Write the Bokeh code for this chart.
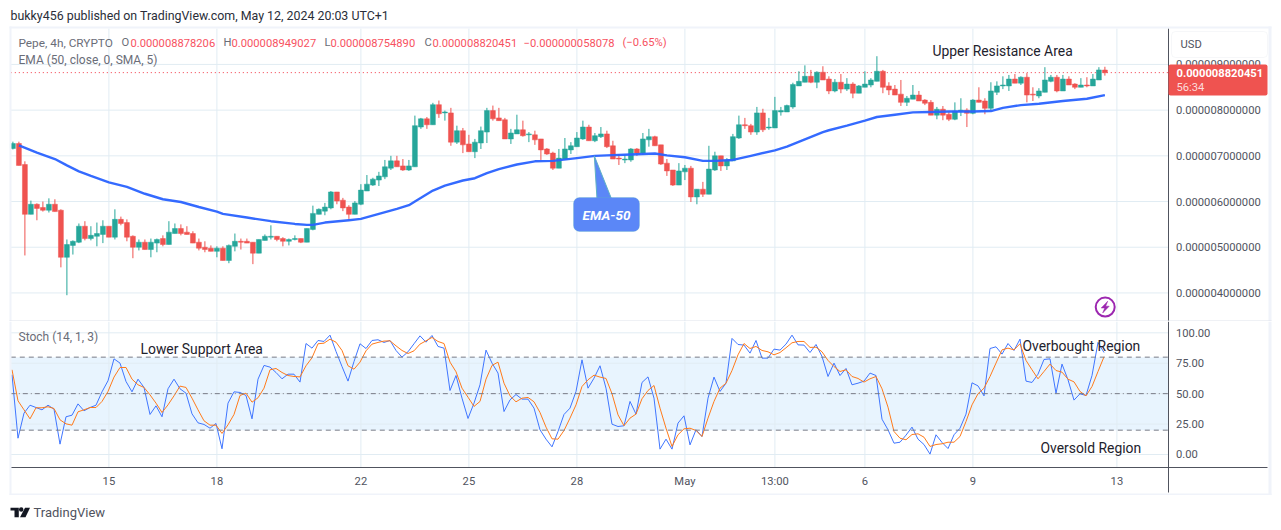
from bokeh.plotting import figure
from bokeh.layouts import column
from bokeh.models import (Range1d, FixedTicker, LinearAxis, BoxAnnotation, Label)
from bokeh.models import ColumnDataSource
from bokeh.embed import file_html
from bokeh.resources import INLINE

# prices in units of 1e-6
opens = [7.16,7.27,6.81,5.72,5.94,5.87,5.81,5.94,5.81,4.78,
5.04,5.11,5.46,5.19,5.24,5.28,5.46,5.22,5.61,5.54,
5.24,5.00,5.11,4.95,5.09,5.19,5.06,5.30,5.41,5.33,
5.30,5.11,5.00,4.98,4.91,4.98,4.71,5.02,5.13,5.13,
5.11,4.87,5.15,5.22,5.24,5.19,5.13,5.17,5.19,5.11,
5.39,5.72,5.79,5.86,6.21,6.03,5.88,5.72,5.94,6.23,
6.36,6.47,6.54,6.73,6.89,6.78,6.69,6.76,7.63,7.81,
7.68,8.12,7.94,7.94,7.30,7.55,7.26,7.09,7.28,7.52,
7.99,7.83,7.79,7.37,7.48,7.57,7.46,7.46,7.37,7.15,
7.06,6.73,6.93,7.13,7.20,7.37,7.63,7.33,7.42,7.48,
7.22,6.95,6.91,6.91,7.15,7.06,7.35,7.42,7.24,6.84,
6.69,6.36,6.65,6.73,6.10,6.27,6.16,6.69,7.00,6.78,
6.89,7.39,7.68,7.66,7.52,7.94,7.61,7.61,7.96,7.96,
8.07,8.53,8.61,8.74,8.61,8.83,8.68,8.42,8.61,8.46,
8.57,8.37,8.50,8.55,8.63,8.85,8.53,8.46,8.35,8.17,
8.24,8.33,8.22,8.17,7.89,8.02,7.91,7.80,7.98,8.00,
7.93,8.22,8.20,8.04,8.39,8.53,8.53,8.68,8.59,8.72,
8.35,8.31,8.39,8.63,8.72,8.42,8.68,8.57,8.50,8.55,
8.53,8.66,8.878]
highs = [7.31,7.31,6.88,6.02,5.96,6.00,6.07,6.05,5.83,5.17,
5.15,5.52,5.57,5.46,5.54,5.59,5.46,5.83,5.67,5.61,
5.26,5.17,5.17,5.19,5.19,5.26,5.57,5.52,5.50,5.46,
5.35,5.19,5.13,5.04,5.02,5.02,5.06,5.30,5.19,5.19,
5.11,5.17,5.28,5.48,5.24,5.22,5.19,5.26,5.19,5.41,
5.91,5.85,5.97,6.23,6.21,6.08,5.92,6.01,6.38,6.58,
6.52,6.65,6.91,7.00,7.00,6.93,6.91,7.88,7.83,7.85,
8.16,8.21,7.99,8.05,7.66,7.61,7.46,7.37,7.64,8.05,
8.10,8.05,7.83,7.59,7.90,7.77,7.52,7.55,7.37,7.17,
7.09,7.15,7.39,7.30,7.52,7.77,7.68,7.50,7.63,7.55,
7.33,7.04,7.02,7.17,7.17,7.50,7.59,7.44,7.24,6.93,
6.69,6.84,6.80,6.78,6.27,6.43,7.22,7.09,7.00,6.95,
7.48,7.88,7.83,7.70,8.07,8.03,7.83,8.29,8.07,8.12,
8.60,8.85,8.98,8.88,8.85,8.96,8.74,8.68,8.79,8.70,
8.61,8.55,8.85,8.70,9.18,8.88,8.61,8.55,8.66,8.31,
8.55,8.42,8.24,8.22,8.07,8.09,7.96,8.17,8.26,8.04,
8.24,8.50,8.26,8.61,8.63,8.74,8.77,8.79,8.74,8.81,
8.50,8.48,8.94,8.77,8.77,8.77,8.74,8.59,8.70,8.72,
8.79,8.94,8.949]
lows = [7.14,6.79,4.82,5.72,5.59,5.78,5.76,5.78,4.56,3.95,
4.84,5.09,5.15,5.15,5.02,5.09,5.22,5.17,5.48,5.13,
4.76,4.93,4.95,4.78,4.89,5.02,5.06,5.30,5.26,5.28,
5.09,4.93,4.89,4.91,4.78,4.71,4.65,4.91,4.95,5.09,
4.63,4.87,5.15,5.17,5.13,5.02,5.04,5.15,5.09,5.11,
5.37,5.72,5.70,5.83,5.94,5.79,5.62,5.72,5.92,6.23,
6.34,6.34,6.49,6.69,6.76,6.67,6.67,6.76,7.59,7.59,
7.68,7.83,7.77,7.22,7.26,7.06,7.09,6.95,7.15,7.28,
7.77,7.77,7.37,7.26,7.48,7.42,7.30,7.24,6.91,7.02,
6.69,6.73,6.93,7.04,7.20,7.35,7.33,7.30,7.39,7.17,
6.93,6.80,6.84,6.87,7.00,7.02,7.20,7.22,6.80,6.56,
6.34,6.36,6.47,5.99,5.94,6.10,6.16,6.67,6.67,6.69,
6.89,7.37,7.59,7.46,7.46,7.52,7.57,7.61,7.88,7.96,
8.03,8.53,8.61,8.59,8.48,8.66,8.35,8.39,8.37,8.42,
8.26,8.37,8.50,8.50,8.63,8.37,8.33,8.33,8.09,8.09,
8.24,8.20,8.11,7.89,7.80,7.78,7.76,7.78,7.87,7.63,
7.91,8.17,7.91,8.00,8.33,8.46,8.42,8.59,8.55,8.17,
8.20,8.26,8.39,8.61,8.39,8.42,8.55,8.46,8.50,8.50,
8.53,8.66,8.755]
closes = [7.27,6.79,5.72,5.94,5.85,5.81,5.94,5.78,4.78,5.06,
5.13,5.46,5.19,5.26,5.30,5.46,5.22,5.61,5.52,5.22,
5.00,5.11,4.95,5.11,5.17,5.06,5.33,5.41,5.30,5.28,
5.09,4.98,4.95,4.91,4.98,4.71,5.04,5.13,5.11,5.09,
4.87,5.17,5.24,5.24,5.17,5.13,5.17,5.19,5.11,5.41,
5.74,5.83,5.88,6.21,6.01,5.86,5.72,5.97,6.25,6.38,
6.49,6.56,6.76,6.89,6.76,6.69,6.78,7.66,7.81,7.68,
8.12,7.92,7.96,7.30,7.55,7.24,7.09,7.30,7.55,7.99,
7.81,7.77,7.37,7.50,7.57,7.44,7.48,7.35,7.13,7.04,
6.73,6.95,7.15,7.22,7.39,7.63,7.33,7.44,7.48,7.20,
6.93,6.93,6.93,7.15,7.06,7.37,7.42,7.22,6.82,6.67,
6.36,6.67,6.73,6.10,6.27,6.16,6.71,7.00,6.78,6.91,
7.42,7.68,7.66,7.52,7.94,7.57,7.63,7.99,7.99,8.10,
8.56,8.63,8.74,8.61,8.83,8.66,8.42,8.61,8.46,8.57,
8.37,8.53,8.57,8.66,8.85,8.50,8.44,8.33,8.17,8.26,
8.33,8.20,8.15,7.89,8.02,7.89,7.80,7.98,8.00,7.93,
8.22,8.17,8.04,8.42,8.53,8.55,8.68,8.59,8.72,8.33,
8.33,8.42,8.66,8.72,8.42,8.68,8.55,8.50,8.55,8.53,
8.68,8.88,8.820]

ema_bars = [1,4,7,9,11,13,16,19,22,25,28,31,34,35,39,43,47,49,50,52,56,58,61,64,66,67,70,72,75,77,79,81,84,87,90,
            94,97,99,103,107,109,112,115,117,120,123,127,129,132,135,136,139,142,144,147,150,153,156,160,163,165,168,171,175,179,182]
ema_vals = [7.23,7.07,6.93,6.79,6.66,6.56,6.42,6.32,6.17,6.05,5.99,5.88,5.78,5.73,5.65,5.57,5.51,5.49,5.49,5.54,5.59,5.62,5.73,5.84,5.92,6.00,6.24,6.35,6.46,6.51,6.62,6.71,6.81,6.88,6.89,
            6.95,7.00,7.01,7.03,7.05,7.01,6.97,6.89,6.89,6.91,7.00,7.12,7.20,7.36,7.52,7.56,7.66,7.77,7.85,7.90,7.95,7.96,7.97,7.97,7.98,8.05,8.11,8.14,8.20,8.25,8.33]

stoch_k = [65.5,13.4,34.0,40.5,38.6,36.7,40.5,37.3,8.5,31.0,
32.3,41.6,35.9,38.6,40.5,51.5,60.6,78.6,75.1,60.0,
51.5,61.9,55.1,32.9,40.0,31.0,54.0,61.9,54.0,50.4,
33.4,26.0,24.7,21.6,25.5,4.7,42.2,51.5,51.0,48.5,
29.3,61.9,73.2,71.8,67.4,62.2,66.0,66.0,59.5,91.2,
87.4,93.7,92.9,98.1,84.7,72.3,60.3,76.4,91.0,87.1,
93.7,94.3,92.1,93.7,85.5,80.0,84.4,91.0,97.5,92.3,
97.8,88.8,87.4,52.6,64.9,46.3,29.6,42.2,57.3,85.8,
75.1,66.9,35.3,44.9,49.3,45.5,45.5,38.1,20.3,12.6,
6.3,18.9,32.9,38.1,51.8,77.8,54.5,62.7,72.9,54.5,
24.9,23.0,23.6,43.6,33.2,59.2,63.8,46.3,4.4,12.6,
4.4,25.8,31.8,7.9,20.3,14.8,46.3,63.6,51.8,58.6,
95.4,90.4,89.9,83.3,93.7,79.2,79.2,86.6,85.8,90.7,
98.1,90.1,89.9,83.8,90.4,80.6,64.1,75.1,64.9,70.7,
57.3,58.6,60.3,66.9,64.9,29.0,20.3,9.3,10.1,15.9,
22.5,12.6,8.2,0.3,16.2,9.9,4.9,16.2,21.6,33.2,
58.9,56.4,48.2,87.1,88.5,82.5,91.2,85.5,94.8,60.3,
59.2,66.0,78.1,78.6,50.4,74.3,61.4,44.7,49.9,48.5,
64.9,92.1,83.8]
stoch_d = [69.6,44.1,36.7,29.3,38.4,38.4,39.2,37.8,28.5,25.2,
24.1,35.1,36.7,38.6,38.6,43.6,51.8,63.6,71.5,71.5,
61.9,57.3,55.1,49.0,42.2,34.5,40.8,48.2,56.2,55.1,
46.3,36.7,27.7,24.1,24.1,17.3,24.4,32.9,48.5,50.4,
43.0,46.6,54.5,69.6,70.7,67.4,64.9,64.1,63.8,72.9,
79.5,91.0,91.5,94.8,92.3,85.5,72.9,70.1,75.9,85.2,
90.7,92.1,93.2,93.4,89.3,85.5,83.0,85.2,90.7,93.4,
96.2,92.9,91.2,75.9,68.0,54.5,47.1,39.5,43.6,61.9,
73.2,75.9,58.6,48.2,43.3,46.3,46.9,43.3,34.5,22.5,
12.9,12.6,19.7,29.9,40.8,55.9,61.4,65.2,63.6,62.5,
49.9,32.6,23.6,29.9,33.2,45.8,52.6,56.7,38.1,21.6,
6.6,16.2,21.1,21.6,19.7,14.8,29.9,43.6,54.5,58.6,
69.0,81.9,91.2,87.1,88.8,85.5,84.4,81.9,83.8,87.7,
91.8,92.9,92.9,88.0,88.2,84.4,77.3,72.3,68.2,69.6,
64.1,62.5,59.5,62.2,64.1,54.0,38.9,18.9,13.4,12.1,
16.4,17.0,14.2,6.6,8.2,8.8,10.1,10.1,14.8,27.1,
40.8,49.9,54.5,64.1,75.1,86.0,87.4,86.0,91.0,77.3,
69.6,62.2,68.2,74.3,69.0,67.7,61.9,59.7,51.8,48.2,
55.9,68.2,80.3]

date_bars = [16,34,58,76,94,112,127,142,160,184]
date_labels = ["15","18","22","25","28","May","13:00","6","9","13"]
price_ticks = [4,5,6,7,8,9]
price_labels = ["0.000004000000","0.000005000000","0.000006000000","0.000007000000","0.000008000000","0.000009000000"]
stoch_ticks = [0,25,50,75,100]
stoch_labels = ["0.00","25.00","50.00","75.00","100.00"]
last_price = 8.820451

FONT = "Roboto"
GRID = "#e1ecf3"
CHROME = "#f0f3fa"
AXIS = "#50535e"
TXT = "#6a6d78"
RED = "#f7525f"
DARK = "#1e222d"

bars = list(range(len(opens)))
colors = ["#26a69a" if c >= o else "#ef5350" for o, c in zip(opens, closes)]
body_lo = [min(o, c) for o, c in zip(opens, closes)]
body_hi = [max(o, c) for o, c in zip(opens, closes)]
src = ColumnDataSource(dict(x=bars, h=highs, l=lows, lo=body_lo, hi=body_hi, c=colors))

# limits of the panes, in data units
X_VIEW = (-2.067, 210.433)
PANE_L, PANE_R, AXIS_END = -0.35, 192.52, 209.15
P_TOP, P_BOT = 9.786, 3.375
S_BOT, S_TOP = -10.7, 109.3


def txt(p, x, y, text, size, color=TXT, style="normal", align="left", top=0):
    p.add_layout(Label(x=x, y=y - top, x_units="canvas", y_units="canvas", text=text,
                       text_font=FONT, text_font_size=size, text_color=color,
                       text_font_style=style, text_align=align, text_baseline="middle"))


def box(p, l, r, t, b, color, top=0, line=None, radius=0):
    p.add_layout(BoxAnnotation(left=l, right=r, top=t - top, bottom=b - top,
                               left_units="canvas", right_units="canvas",
                               top_units="canvas", bottom_units="canvas",
                               fill_color=color, fill_alpha=1, line_color=line, border_radius=radius))


def pane_fig(h, yr):
    return figure(width=1275, height=h, output_backend="svg", toolbar_location=None,
                  x_range=Range1d(*X_VIEW), y_range=Range1d(*yr),
                  x_axis_type=None, y_axis_type=None, min_border=0,
                  background_fill_color="white", border_fill_color="white", outline_line_color=None)


def style_axis(a, stand):
    a.major_label_text_font = FONT
    a.major_label_text_font_size = "11.2px"
    a.major_label_text_color = AXIS
    a.axis_line_color = AXIS
    a.major_tick_line_color = None
    a.minor_tick_line_color = None
    a.major_tick_in = 0
    a.major_tick_out = 0
    a.major_label_standoff = stand


# ---------- price pane: canvas spans page y 0..321 ----------
pp = pane_fig(321, (3.375, 10.399))
pp.grid.visible = False
pp.segment([PANE_L] * len(price_ticks), price_ticks, [PANE_R] * len(price_ticks), price_ticks, line_color=GRID, line_width=1)
pp.segment(date_bars, [P_BOT] * len(date_bars), date_bars, [P_TOP] * len(date_bars), line_color=GRID, line_width=1)
ax = LinearAxis(fixed_location=PANE_R, bounds=(P_BOT, P_TOP), ticker=FixedTicker(ticks=price_ticks),
                major_label_overrides=dict(zip(price_ticks, price_labels)))
style_axis(ax, 8)
pp.add_layout(ax, "right")

pp.line([PANE_L, PANE_R], [last_price, last_price], line_color="#f23645", line_dash=[1, 3], line_width=1)
pp.segment("x", "h", "x", "l", source=src, color="c", line_width=1)
pp.vbar("x", 0.82, "lo", "hi", source=src, fill_color="c", line_color="c", line_width=0.5)
pp.line(ema_bars, ema_vals, line_color="#2962ff", line_width=2.4, line_alpha=0.95, line_join="round")

# EMA-50 callout pointer
pointer_x = [96.9, 97.4, 100.1]
pointer_y = [7.0, 5.95, 5.95]
pp.patch(pointer_x, pointer_y, fill_color="#5b87f7", line_color="#5fb2c4", line_width=1)
box(pp, 573, 639, 197, 231, "#5b87f7", line="#5fb2c4", radius=6)
txt(pp, 606, 214, "EMA-50", "13.5px", "white", "bold italic", "center")

# bolt icon
icon_bar, icon_price = 182.05, 3.69
pp.scatter([icon_bar], [icon_price], size=19, fill_color="white", line_color="#9c27b0", line_width=2)
bolt_dx = [0.42, -0.67, -0.08, -0.42, 0.67, 0.08]
bolt_dy = [0.13, -0.02, -0.02, -0.13, 0.02, 0.02]
pp.patch([icon_bar + d for d in bolt_dx], [icon_price + d for d in bolt_dy],
         fill_color="#9c27b0", line_color="#9c27b0", line_width=0.5)

# frame around the chart
box(pp, 9, 1271, 26, 28, CHROME)
box(pp, 9, 11, 26, 321, CHROME)
box(pp, 1268, 1271, 26, 321, CHROME)
box(pp, 9, 1271, 320, 321, "#e0e3eb")
# USD button
box(pp, 1171, 1267, 31, 57, "white", line="#e0e3eb", radius=4)
txt(pp, 1180, 44, "USD", "11.2px", AXIS)
# last price tag
box(pp, 1168, 1267, 64, 95, "#ef5350", radius=2)
txt(pp, 1176, 72, "0.000008820451", "11.2px", "white", "bold")
txt(pp, 1176, 87, "56:34", "11.2px", "#fcdcdc")

txt(pp, 10, 15, "bukky456 published on TradingView.com, May 12, 2024 20:03 UTC+1", "12.4px", "#2a2e39")
txt(pp, 18, 42, "Pepe, 4h, CRYPTO", "11.8px")
for lx, letter, vx, val in [(121, "O", 130, "0.000008878206"), (223, "H", 231, "0.000008949027"),
                            (324, "L", 330, "0.000008754890"), (424, "C", 432, "0.000008820451")]:
    txt(pp, lx, 42, letter, "11.2px")
    txt(pp, vx, 42, val, "11.2px", RED)
txt(pp, 523, 42, "\u22120.000000058078", "11.2px", RED)
txt(pp, 622, 42, "(\u22120.65%)", "11.2px", RED)
txt(pp, 18, 59, "EMA (50, close, 0, SMA, 5)", "12px")
txt(pp, 932, 50, "Upper Resistance Area", "13.9px", DARK)

# ---------- stochastic pane: canvas spans page y 321..495 ----------
sp = pane_fig(174, (-33.7, 109.3))
sp.grid.visible = False
sp.segment([PANE_L] * len(stoch_ticks), stoch_ticks, [PANE_R] * len(stoch_ticks), stoch_ticks, line_color=GRID, line_width=1)
sp.segment(date_bars, [S_BOT] * len(date_bars), date_bars, [S_TOP] * len(date_bars), line_color=GRID, line_width=1)
ya = LinearAxis(fixed_location=PANE_R, bounds=(-31.6, S_TOP), ticker=FixedTicker(ticks=stoch_ticks),
                major_label_overrides=dict(zip(stoch_ticks, stoch_labels)))
xa = LinearAxis(fixed_location=S_BOT, bounds=(PANE_L, AXIS_END), ticker=FixedTicker(ticks=date_bars),
                major_label_overrides=dict(zip(date_bars, date_labels)))
style_axis(ya, 8)
style_axis(xa, 7)
sp.add_layout(ya, "right")
sp.add_layout(xa, "below")

sp.add_layout(BoxAnnotation(left=PANE_L, right=PANE_R, bottom=20, top=80, fill_color="#2196f3",
                            fill_alpha=0.1, line_color=None, level="underlay"))
stoch_x = [b - 0.15 for b in bars]
sp.line(stoch_x, stoch_k, line_color="#3f75ff", line_width=1)
sp.line(stoch_x, stoch_d, line_color="#ff7a1a", line_width=1)
for lvl, dash in ((80, [5, 4]), (50, [5, 3, 1, 3]), (20, [5, 4])):
    sp.line([PANE_L, PANE_R], [lvl, lvl], line_color="#787b86", line_dash=dash, line_width=1)

box(sp, 9, 11, 321, 495, CHROME, top=321)
box(sp, 1268, 1271, 321, 495, CHROME, top=321)
box(sp, 9, 1271, 493, 495, CHROME, top=321)

txt(sp, 18, 336, "Stoch (14, 1, 3)", "12px", top=321)
txt(sp, 140, 348, "Lower Support Area", "13.9px", DARK, top=321)
txt(sp, 1022, 345, "Overbought Region", "13.9px", DARK, top=321)
txt(sp, 1040, 447, "Oversold Region", "13.9px", DARK, top=321)

# ---------- footer logo: canvas spans page y 495..522 ----------
ft = figure(width=1275, height=27, output_backend="svg", toolbar_location=None,
            x_range=Range1d(0, 1275), y_range=Range1d(522, 495), x_axis_type=None, y_axis_type=None,
            min_border=0, outline_line_color=None, background_fill_color="white", border_fill_color="white")
ft.grid.visible = False
logo_t_x = [10, 18.3, 18.3, 14, 14, 10]
logo_t_y = [507.3, 507.3, 516.7, 516.7, 510, 510]
logo_v_x = [24.5, 29.5, 25, 19.5]
logo_v_y = [507.3, 507.3, 516.7, 516.7]
ft.patch(logo_t_x, logo_t_y, fill_color="#131722", line_color=None)
ft.patch(logo_v_x, logo_v_y, fill_color="#131722", line_color=None)
ft.scatter([20.7], [509], size=4.5, fill_color="#131722", line_color=None)
txt(ft, 33, 512, "TradingView", "13px", AXIS, top=495)

layout = column(pp, sp, ft, spacing=0)
open("out.html", "w").write(file_html(layout, INLINE))
